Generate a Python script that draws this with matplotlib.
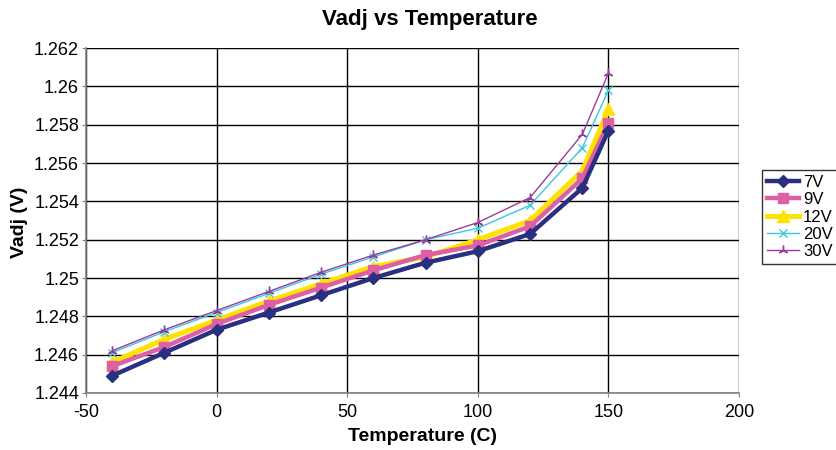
import matplotlib
matplotlib.use('Agg')
import matplotlib.pyplot as plt

plt.rcParams['font.family'] = ['Liberation Sans', 'DejaVu Sans']
plt.rcParams['axes.unicode_minus'] = False

temp = [-40, -20, 0, 20, 40, 60, 80, 100, 120, 140, 150]
v7 = [1.2449, 1.2461, 1.2473, 1.2482, 1.2491, 1.2500, 1.2508, 1.2514, 1.2523, 1.2547, 1.2577]
v9 = [1.2454, 1.2464, 1.2476, 1.2486, 1.2495, 1.2504, 1.2512, 1.2517, 1.2527, 1.2552, 1.2581]
v12 = [1.2456, 1.2468, 1.2478, 1.2488, 1.2497, 1.2506, 1.2511, 1.2520, 1.2530, 1.2556, 1.2588]
v20 = [1.2461, 1.2472, 1.2482, 1.2492, 1.2502, 1.2511, 1.2520, 1.2526, 1.2538, 1.2568, 1.2598]
v30 = [1.2462, 1.2473, 1.2483, 1.2493, 1.2503, 1.2512, 1.2520, 1.2529, 1.2542, 1.2575, 1.2607]

xticks = [-50, 0, 50, 100, 150, 200]
yticks = [1.244, 1.246, 1.248, 1.25, 1.252, 1.254, 1.256, 1.258, 1.26, 1.262]
ylabels = ['1.244', '1.246', '1.248', '1.25', '1.252', '1.254', '1.256', '1.258', '1.26', '1.262']

fig = plt.figure(figsize=(8.37, 4.5), dpi=100)
ax = fig.add_axes([0.1027, 0.1267, 0.7803, 0.7663])

ax.plot(temp, v7, color='#2B2F80', lw=3.2, marker='D', ms=6, label='7V', zorder=5)
ax.plot(temp, v9, color='#DD5FA6', lw=3.2, marker='s', ms=6.5, label='9V', zorder=4)
ax.plot(temp, v12, color='#FFE200', lw=3.6, marker='^', ms=9, label='12V', zorder=3)
ax.plot(temp, v20, color='#3CC8DC', lw=1.0, marker='x', ms=6, mew=1.0, label='20V', zorder=6)
ax.plot(temp, v30, color='#9B3C9B', lw=1.0, marker=(3, 2, 0), ms=7, mew=1.0, label='30V', zorder=7)

ax.set_xlim(-50, 200)
ax.set_ylim(1.244, 1.262)
ax.set_xticks(xticks)
ax.set_yticks(yticks)
ax.set_yticklabels(ylabels)
ax.tick_params(labelsize=13, length=3, direction='out', color='#808080')
ax.tick_params(axis='y', pad=2)
ax.tick_params(axis='x', pad=5)
ax.grid(True, color='black', lw=1.0)
ax.set_axisbelow(True)
for s in ['top', 'right']:
    ax.spines[s].set_visible(False)
for s in ['left', 'bottom']:
    ax.spines[s].set_color('#808080')
    ax.spines[s].set_linewidth(1.2)

fig.text(430 / 837, 1 - 20 / 450, 'Vadj vs Temperature', fontsize=16, fontweight='bold',
         ha='center', va='center')
ax.set_xlabel('Temperature (C)', fontsize=14, fontweight='bold')
ax.xaxis.set_label_coords((422 - 86) / 653, -(437 - 393) / 345)
ax.xaxis.label.set_va('center')
ax.set_ylabel('Vadj (V)', fontsize=14, fontweight='bold')
ax.yaxis.set_label_coords(-(86 - 20) / 653, (393 - 222) / 345)
ax.yaxis.label.set_va('center')

leg = fig.legend(loc='upper left', bbox_to_anchor=(762 / 837, 1 - 170 / 450), fontsize=12,
                 frameon=True, fancybox=False, edgecolor='black', borderpad=0.3,
                 labelspacing=0.14, handlelength=1.9, handletextpad=0.25, borderaxespad=0)
leg.get_frame().set_linewidth(1.0)

fig.savefig('out.png', dpi=100)
